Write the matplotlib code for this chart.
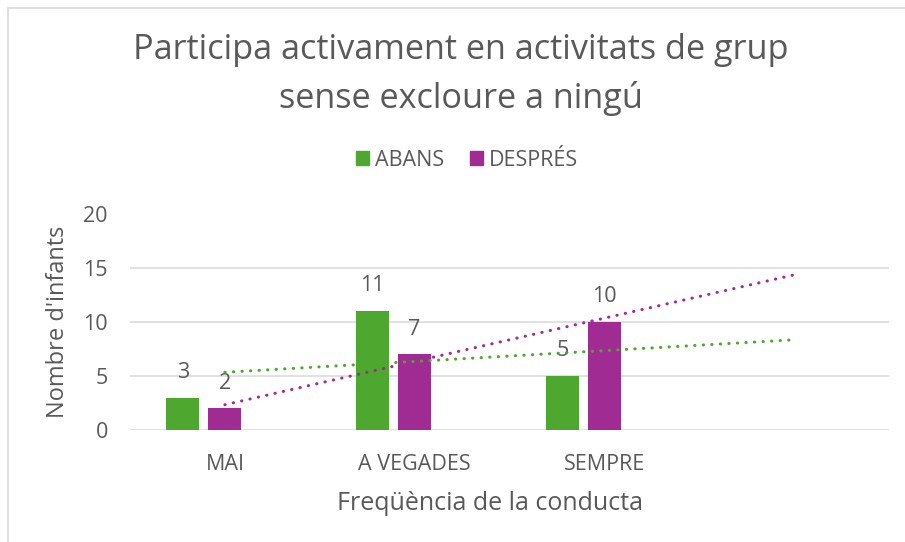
import numpy as np
import matplotlib.pyplot as plt
from matplotlib.patches import Patch
from matplotlib.lines import Line2D

# Data
categories = ["MAI", "A VEGADES", "SEMPRE"]
abans = [3, 11, 5]
despres = [2, 7, 10]
series_names = ["ABANS", "DESPRÉS"]
title_lines = ["Participa activament en activitats de grup", "sense excloure a ningú"]

GREEN = "#4EA72E"
PURPLE = "#A02B93"
TEXT = "#595959"
GRID = "#D9D9D9"

plt.rcParams["font.family"] = ["Open Sans", "DejaVu Sans"]

W, H = 905, 542
fig = plt.figure(figsize=(W / 100, H / 100), dpi=100)
ax = fig.add_axes([130 / W, 1 - 430 / H, (889 - 130) / W, (430 - 213.5) / H])

x = np.arange(len(categories))
width = 0.174
step = 0.221
for vals, color, off in [(abans, GREEN, -step), (despres, PURPLE, 0.0)]:
    bars = ax.bar(x + off, vals, width, color=color, zorder=2)
    for b, v in zip(bars, vals):
        ax.annotate(str(v), (b.get_x() + b.get_width() / 2, v),
                    xytext=(0, 18), textcoords="offset points",
                    ha="center", va="center", fontsize=15.5, color=TEXT)

# linear trendlines, forecast one period forward
x_tr = np.arange(len(categories) + 1)
for vals, color in [(abans, GREEN), (despres, PURPLE)]:
    k, b = np.polyfit(x, vals, 1)
    ax.plot(x_tr, k * x_tr + b, color=color, lw=2.2,
            linestyle=(0, (0.1, 2.7)), dash_capstyle="round", zorder=3)

ax.set_xlim(-0.5, 3.5)
ax.set_ylim(0, 20)
ax.set_yticks(range(0, 21, 5))
ax.set_xticks(x)
ax.set_xticklabels(categories)
ax.tick_params(length=0, labelsize=15.5, labelcolor=TEXT)
ax.tick_params(axis="y", pad=16)
ax.tick_params(axis="x", pad=17)
ax.grid(axis="y", color=GRID, lw=1.1, zorder=0)
for s in ax.spines.values():
    s.set_visible(False)
ax.set_axisbelow(True)

fig.text(490 / W, 1 - 504 / H, "Freqüència de la conducta",
         ha="center", va="center", fontsize=18, color=TEXT)
fig.text(58 / W, 1 - 322 / H, "Nombre d'infants", rotation=90,
         ha="center", va="center", fontsize=17, color=TEXT)

fig.text(461 / W, 1 - 50 / H, title_lines[0], ha="center", va="center",
         fontsize=24.7, color=TEXT)
fig.text(461 / W, 1 - 98 / H, title_lines[1], ha="center", va="center",
         fontsize=24.7, color=TEXT)

handles = [Patch(color=GREEN), Patch(color=PURPLE)]
fig.legend(handles, series_names, loc="center", bbox_to_anchor=(467 / W, 1 - 160 / H),
           ncol=2, frameon=False, fontsize=15.5, labelcolor=TEXT,
           handlelength=0.6, handleheight=0.6, handletextpad=0.3, columnspacing=1.2)

# chart area border
fig.add_artist(Line2D([8 / W, 8 / W], [0, 1 - 8 / H], color=GRID, lw=1.2))
fig.add_artist(Line2D([8 / W, 1], [1 - 8 / H, 1 - 8 / H], color=GRID, lw=1.2))

fig.savefig("out.png", dpi=100)
